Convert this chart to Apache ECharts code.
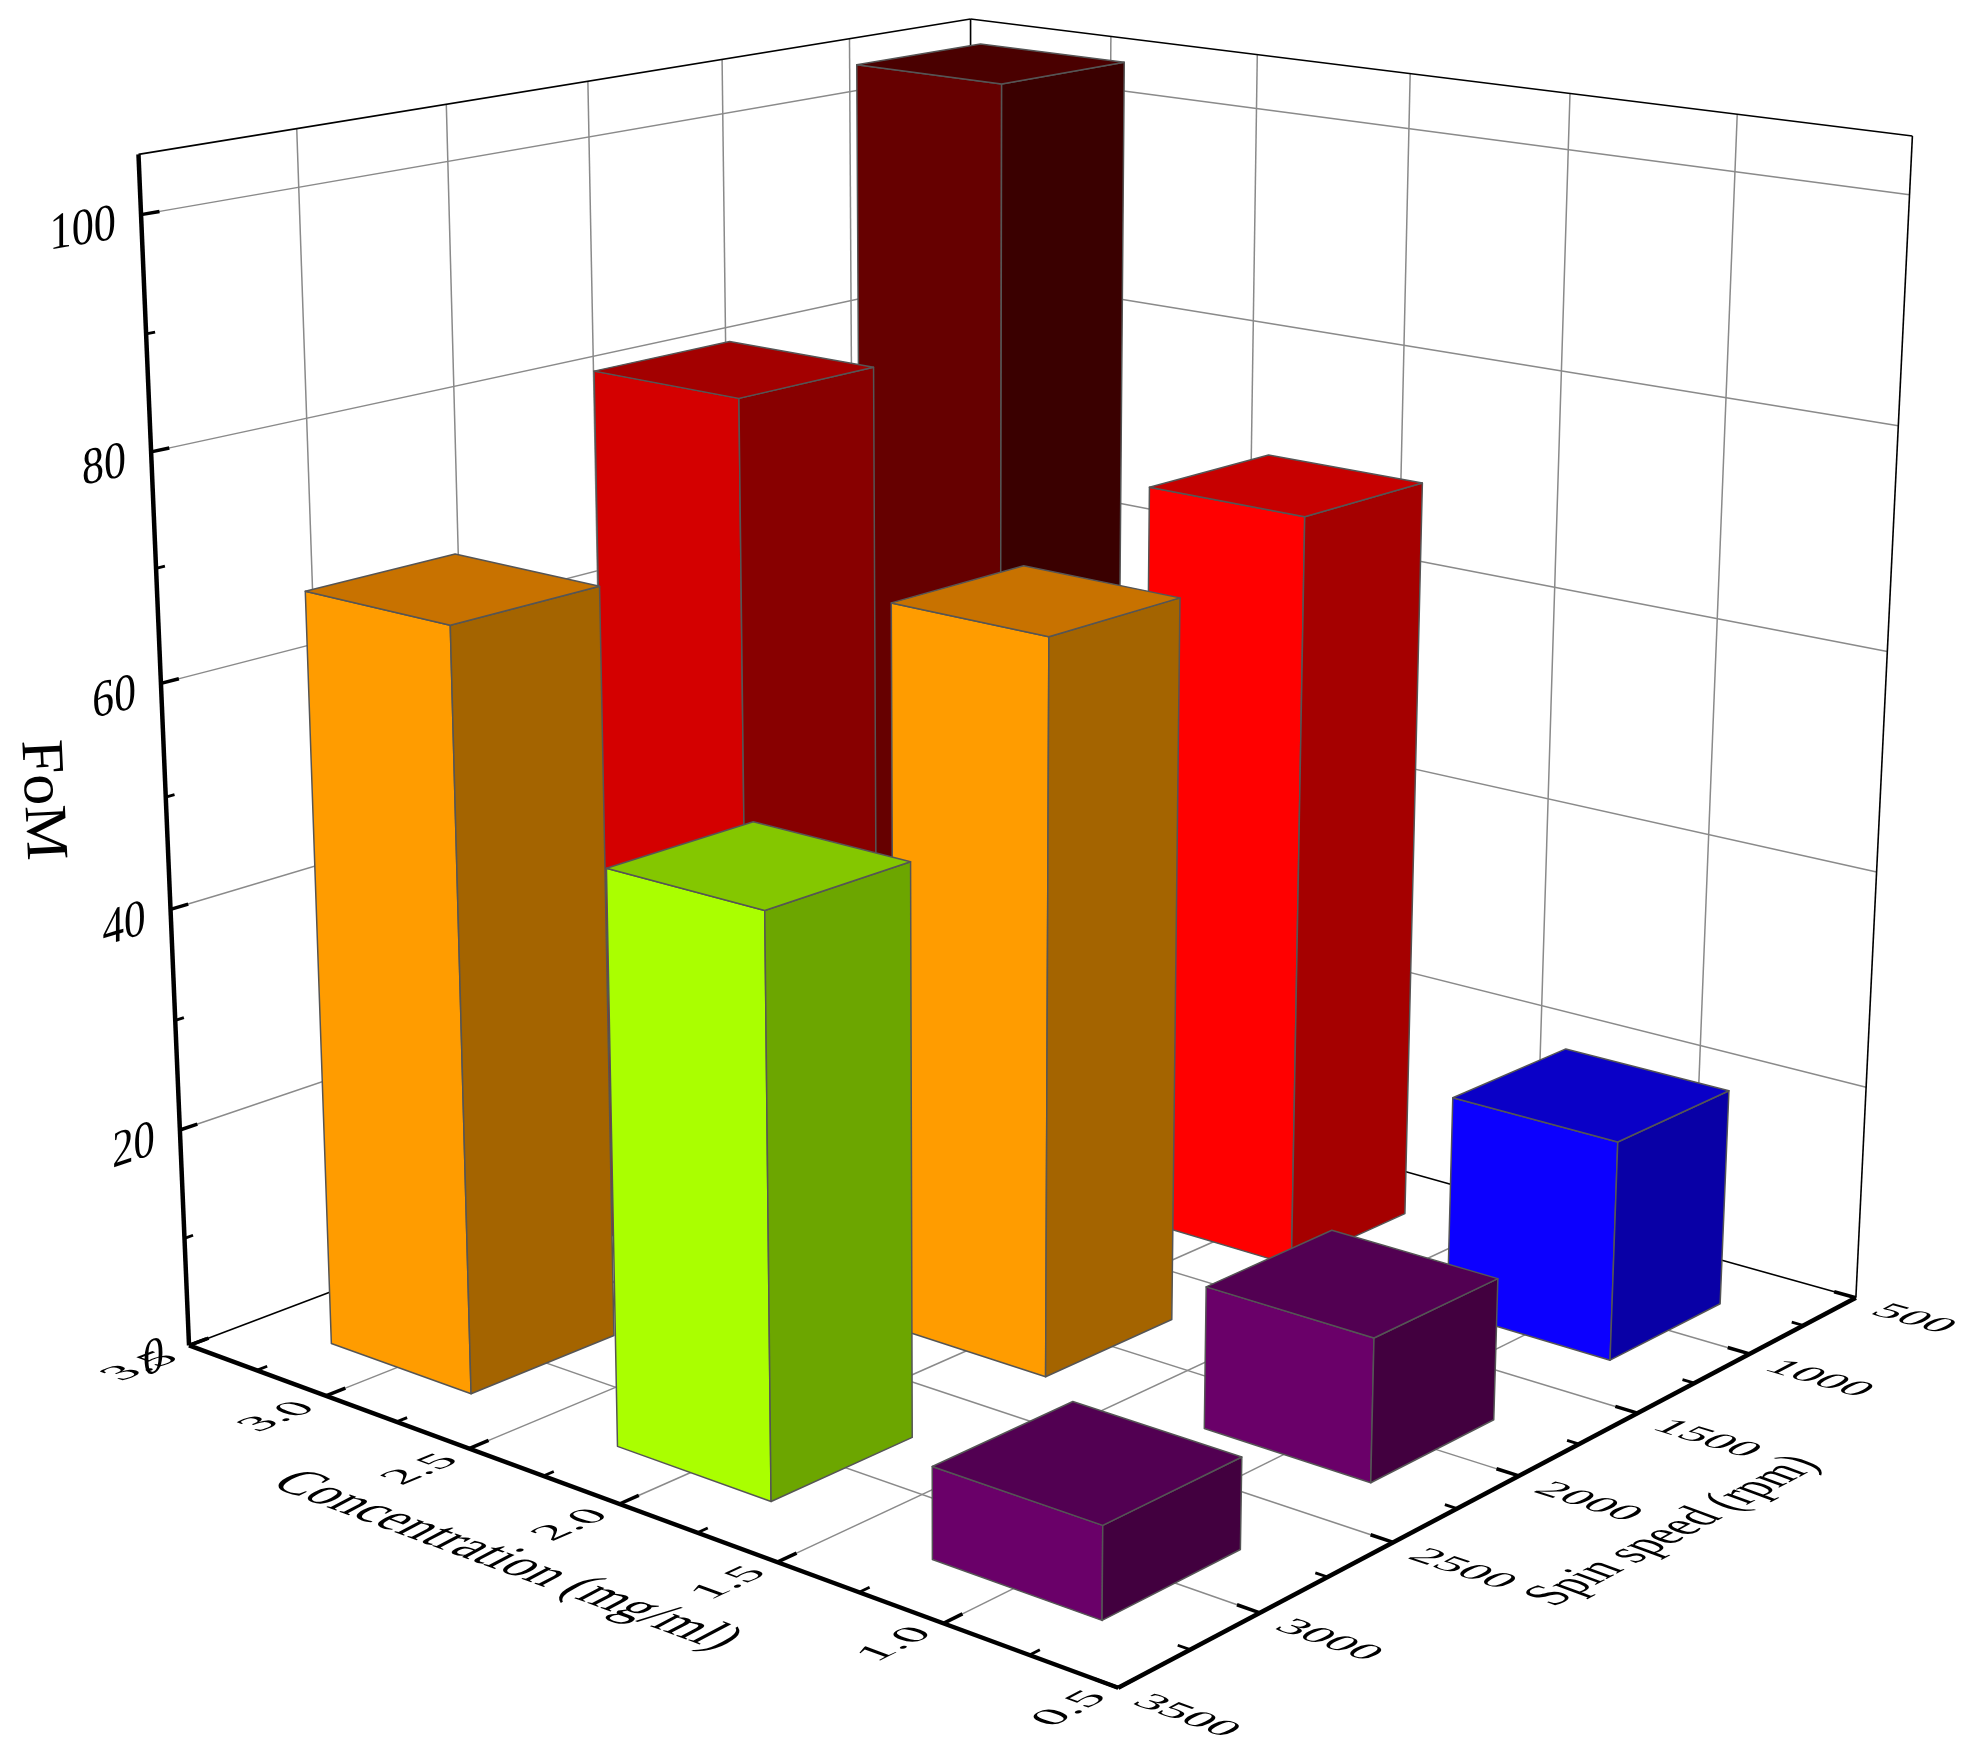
<!DOCTYPE html>
<html><head><meta charset="utf-8">
<style>html,body{margin:0;padding:0;background:#fff}#c{width:1965px;height:1764px}</style>
<script src="https://cdn.jsdelivr.net/npm/echarts@6/dist/echarts.min.js"></script>
</head><body><div id="c"></div>
<script>
const concentrations = [3, 2, 1];
const spinSpeeds = [1000, 2000, 3000];
const fomAt1000 = [104.4, 69.9, 20];
const fomAt2000 = [81.2, 65.9, 12.6];
const fomAt3000 = [67.8, 50.4, 7.8];
const faceColors1000 = [['#660000','#3A0000','#4A0000'],['#FF0000','#A50000','#C70000'],['#0C00FF','#0900A6','#0A00C7']];
const faceColors2000 = [['#D40000','#880000','#A30000'],['#FF9C00','#A46400','#C87200'],['#6A0069','#42003F','#520052']];
const faceColors3000 = [['#FF9C00','#A46400','#C87200'],['#AAFF00','#6CA600','#84C700'],['#6A0069','#42003F','#520052']];
const concTicks = [0.5, 1, 1.5, 2, 2.5, 3, 3.5];
const concLabels = ['0.5','1.0','1.5','2.0','2.5','3.0','3.5'];
const spinTicks = [3500, 3000, 2500, 2000, 1500, 1000, 500];
const spinLabels = ['3500','3000','2500','2000','1500','1000','500'];
const fomTicks = [0, 20, 40, 60, 80, 100];
const fomLabels = ['0','20','40','60','80','100'];
const concMinor = [0.75, 1.25, 1.75, 2.25, 2.75, 3.25];
const spinMinor = [3250, 2750, 2250, 1750, 1250, 750];
const fomMinor = [10, 30, 50, 70, 90];
const FOM_TOP = 105;
const BAR_DC = 0.25, BAR_DS = 250, BAR_BASE = -0.2;

// Camera calibration: world (conc, spin, fom) -> page pixel, solved by least squares
const cam = [
 [3.5,3500,0,186.7,1346.7],[0.5,3500,0,1116.7,1690.7],[0.5,500,0,1857.3,1298.3],
 [3.5,3500,105,136.7,154.5],[3.5,500,105,970.7,20],[0.5,500,105,1912.4,135.3],
 [3.5,3500,100,141.7,214],[3.5,3500,80,151.7,452],[3.5,3500,60,161.7,684],[3.5,3500,40,170.7,908],[3.5,3500,20,180,1131],
 [3,3500,0,325,1395],[2.5,3500,0,468.3,1450],[2,3500,0,623,1500],[1.5,3500,0,779.5,1560],[1,3500,0,946,1624],
 [0.5,3000,0,1258.3,1613.3],[0.5,2500,0,1391,1544],[0.5,2000,0,1518.3,1476],[0.5,1500,0,1636.7,1411.7],[0.5,1000,0,1750,1353.3]
];
const nw = (c,s,f)=>[(c-0.5)/3,(s-500)/3000,f/105];
function solveCam(){
  const n=11,A=Array.from({length:n},()=>new Array(n+1).fill(0));
  const add=(r,b)=>{for(let i=0;i<n;i++){for(let j=0;j<n;j++)A[i][j]+=r[i]*r[j];A[i][n]+=r[i]*b;}};
  cam.forEach(p=>{const [X,Y,Z]=nw(p[0],p[1],p[2]),u=p[3]/1000,v=p[4]/1000;
    add([X,Y,Z,1,0,0,0,0,-u*X,-u*Y,-u*Z],u);add([0,0,0,0,X,Y,Z,1,-v*X,-v*Y,-v*Z],v);});
  for(let i=0;i<n;i++){let m=i;for(let k=i+1;k<n;k++)if(Math.abs(A[k][i])>Math.abs(A[m][i]))m=k;
    [A[i],A[m]]=[A[m],A[i]];
    for(let k=0;k<n;k++){if(k===i)continue;const f=A[k][i]/A[i][i];for(let j=i;j<=n;j++)A[k][j]-=f*A[i][j];}}
  return A.map((r,i)=>r[n]/r[i]);
}
const P=solveCam();
function proj(c,s,f){const [X,Y,Z]=nw(c,s,f),w=P[8]*X+P[9]*Y+P[10]*Z+1;
  return [1000*(P[0]*X+P[1]*Y+P[2]*Z+P[3])/w,1000*(P[4]*X+P[5]*Y+P[6]*Z+P[7])/w];}

const S={grid:{stroke:'#8a8a8a',lineWidth:1.5},edge:{stroke:'#000',lineWidth:1.6},axis:{stroke:'#000',lineWidth:4.5},
  major:{stroke:'#000',lineWidth:3.5},minor:{stroke:'#000',lineWidth:2.8}};
const kinds=['grid','edge','axis','major','minor'];
const seg=[];
const add=(k,a,b)=>seg.push([...a,...b,kinds.indexOf(k)]);
const C0=0.5,C1=3.5,S0=500,S1=3500;
concTicks.forEach(c=>{ if(c<C1&&c>C0) add('grid',[c,S1,0],[c,S0,0]); if(c<C1&&c>C0) add('grid',[c,S0,0],[c,S0,FOM_TOP]);});
spinTicks.forEach(s=>{ if(s<S1&&s>S0){ add('grid',[C0,s,0],[C1,s,0]); add('grid',[C1,s,0],[C1,s,FOM_TOP]);}});
fomTicks.forEach(f=>{ if(f>0){add('grid',[C1,S1,f],[C1,S0,f]); add('grid',[C1,S0,f],[C0,S0,f]);}});
add('edge',[C1,S1,0],[C1,S0,0]);add('edge',[C1,S0,0],[C0,S0,0]);add('edge',[C0,S0,0],[C0,S0,FOM_TOP]);add('edge',[C1,S0,0],[C1,S0,FOM_TOP]);
add('edge',[C1,S1,FOM_TOP],[C1,S0,FOM_TOP]);add('edge',[C1,S0,FOM_TOP],[C0,S0,FOM_TOP]);
const tickSeg=[];
const addT=(k,a,b)=>tickSeg.push([...a,...b,kinds.indexOf(k)]);
concTicks.forEach(c=>addT('major',[c,S1,0],[c,S1-65,0]));
concMinor.forEach(c=>addT('minor',[c,S1,0],[c,S1-35,0]));
spinTicks.forEach(s=>addT('major',[C0,s,0],[C0+0.065,s,0]));
spinMinor.forEach(s=>addT('minor',[C0,s,0],[C0+0.035,s,0]));
fomTicks.forEach(f=>addT('major',[C1,S1,f],[C1,S1-57,f]));
fomMinor.forEach(f=>addT('minor',[C1,S1,f],[C1,S1-28,f]));
addT('axis',[C1,S1,0],[C0,S1,0]);addT('axis',[C0,S1,0],[C0,S0,0]);addT('axis',[C1,S1,0],[C1,S1,FOM_TOP]);

const barData=[],barColors=[];
spinSpeeds.forEach((s,i)=>{const row=[fomAt1000,fomAt2000,fomAt3000][i],cols=[faceColors1000,faceColors2000,faceColors3000][i];
  concentrations.forEach((c,j)=>{barData.push([c,s,row[j]]);barColors.push(cols[j]);});});

function segRender(params,api){
  const a=api.coord(proj(api.value(0),api.value(1),api.value(2))),b=api.coord(proj(api.value(3),api.value(4),api.value(5)));
  return {type:'line',shape:{x1:a[0],y1:a[1],x2:b[0],y2:b[1]},style:Object.assign({lineCap:'butt'},S[kinds[api.value(6)]])};
}
function barRender(params,api){
  const c=api.value(0),s=api.value(1),f=api.value(2),col=barColors[params.dataIndex];
  const pt=(a,b,h)=>api.coord(proj(a,b,h));
  const cf=c-BAR_DC,cb=c+BAR_DC,sf=s+BAR_DS,sb=s-BAR_DS,b0=BAR_BASE;
  const st={stroke:'#555',lineWidth:1.5,lineJoin:'round'};
  const poly=(pts,fill)=>({type:'polygon',shape:{points:pts},style:Object.assign({fill},st)});
  return {type:'group',children:[
    poly([pt(cb,sf,b0),pt(cf,sf,b0),pt(cf,sf,f),pt(cb,sf,f)],col[0]),
    poly([pt(cf,sf,b0),pt(cf,sb,b0),pt(cf,sb,f),pt(cf,sf,f)],col[1]),
    poly([pt(cb,sf,f),pt(cf,sf,f),pt(cf,sb,f),pt(cb,sb,f)],col[2])
  ]};
}
// affine text placement: u = baseline vector per em, d = glyph-down vector per em
function textEl(api,text,pos,u,d,align,fs){
  fs=fs||40;
  const th=Math.atan2(u[1],u[0]),sx=Math.hypot(u[0],u[1])/fs;
  const k=(Math.cos(th)*d[0]+Math.sin(th)*d[1])/fs,sy=(-Math.sin(th)*d[0]+Math.cos(th)*d[1])/fs;
  return {type:'text',x:pos[0],y:pos[1],rotation:-th,scaleX:sx,scaleY:sy,skewX:Math.atan(k/sy),originX:0,originY:0,
    style:{text,fill:'#000',fontFamily:'Liberation Serif',fontSize:fs,align,verticalAlign:'middle',textAlign:align,textVerticalAlign:'middle'}};
}
const unit=(a,b)=>{const x=b[0]-a[0],y=b[1]-a[1],l=Math.hypot(x,y);return [x/l,y/l];};
const mul=(v,k)=>[v[0]*k,v[1]*k];
const labelItems=[];
concTicks.forEach((c,i)=>labelItems.push({t:'conc',v:c,s:concLabels[i]}));
spinTicks.forEach((s,i)=>labelItems.push({t:'spin',v:s,s:spinLabels[i]}));
fomTicks.forEach((f,i)=>labelItems.push({t:'fom',v:f,s:fomLabels[i]}));
labelItems.push({t:'concTitle',s:'Concentration (mg/ml)'},{t:'spinTitle',s:'Spin speed (rpm)'},{t:'fomTitle',s:'FoM'});
function labelRender(params,api){
  const it=labelItems[params.dataIndex];
  const crd=p=>api.coord(p);
  if(it.t==='conc'){
    const a=proj(it.v,S1,0),u=unit(a,proj(it.v,S0,0)),g=unit(proj(C1,S1,0),proj(C0,S1,0));
    return textEl(api,it.s,crd([a[0]-48,a[1]+21]),mul(u,52),mul(g,40),'center');
  }
  if(it.t==='spin'){
    const a=proj(C0,it.v,0),u=unit(proj(C1,it.v,0),proj(C0,it.v,0)),g=unit(proj(C0,S0,0),proj(C0,S1,0));
    return textEl(api,it.s,crd([a[0]+21,a[1]+11]),mul(u,50),mul(g,36),'left');
  }
  if(it.t==='fom'){
    const a=proj(C1,S1,it.v),u=unit(proj(C1,S1,it.v),proj(C1,S0,it.v));
    return textEl(api,it.s,crd([a[0]-25,a[1]+10]),mul(u,45),[0,52],'right');
  }
  if(it.t==='concTitle'){
    const u=unit(proj(C1,S1,0),proj(C0,S1,0)),g=unit(proj(C0,S0,0),proj(C0,S1,0));
    return textEl(api,it.s,crd([506,1561]),mul(u,52),mul(g,58),'center');
  }
  if(it.t==='spinTitle'){
    const u=unit(proj(C0,S1,0),proj(C0,S0,0)),g=unit(proj(C1,S1,0),proj(C0,S1,0));
    return textEl(api,it.s,crd([1674,1531]),mul(u,44),mul(g,56),'center');
  }
  return textEl(api,it.s,crd([41,800]),[3,62],[-60,3],'center');
}
const common={type:'custom',coordinateSystem:'cartesian2d',silent:true,animation:false,clip:false};
const chart=echarts.init(document.getElementById('c'),null,{renderer:'canvas',width:1965,height:1764});
chart.setOption({
  animation:false,backgroundColor:'#fff',
  grid:{left:0,right:0,top:0,bottom:0},
  xAxis:{type:'value',min:0,max:1965,show:false},
  yAxis:{type:'value',min:0,max:1764,inverse:true,show:false},
  series:[
    Object.assign({},common,{name:'frame',data:seg,renderItem:segRender,z:1}),
    Object.assign({},common,{name:'FoM',data:barData,renderItem:barRender,z:2}),
    Object.assign({},common,{name:'ticks',data:tickSeg,renderItem:segRender,z:3}),
    Object.assign({},common,{name:'labels',data:labelItems.map((_,i)=>[i,i]),renderItem:labelRender,z:4})
  ]
});
</script></body></html>
